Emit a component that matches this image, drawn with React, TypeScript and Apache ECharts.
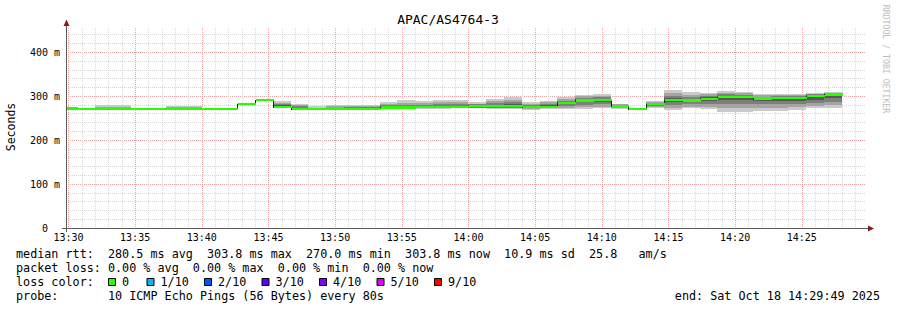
import React, { useEffect, useRef } from 'react';
import * as echarts from 'echarts';

const chartTitle = 'APAC/AS4764-3';
const axisStart = 48589; // 13:29:49 (seconds of day)
const axisEnd = 52189; // 14:29:49
const firstStepEnd = 48640; // 13:30:40
const stepSeconds = 80;
const yMax = 455;

const xTickLabels = ['13:30', '13:35', '13:40', '13:45', '13:50', '13:55', '14:00', '14:05', '14:10', '14:15', '14:20', '14:25'];

// median rtt per 80 s step (ms)
const median = [272, 270, 270, 270, 270, 270, 270.5, 271, 271, 270, 282.5, 291, 275, 270.5, 270, 271, 271, 271, 274, 274, 275, 275, 276, 277, 277, 277, 275, 276, 285, 290, 291, 278, 270, 281.5, 291, 290, 294, 298, 298, 294.5, 296, 296, 300, 303.8];

// sorted ping values (rank 1 = fastest ... rank 10 = slowest), ms
const ping1 = [271, 269, 269, 269, 269, 269, 270, 270, 270, 270, 281, 290, 272, 269, 269, 269, 269, 270, 270, 270, 271, 271, 272, 272, 271, 270, 268, 270, 270, 271, 272, 271, 269, 274, 268, 272, 271, 265, 264, 267, 267, 268, 272, 273];
const ping2 = [271, 270, 270, 270, 270, 270, 270, 270, 270, 270, 282, 290, 273, 270, 270, 270, 270, 270, 271, 271, 272, 272, 273, 273, 273, 272, 270, 272, 273, 275, 276, 273, 270, 276, 273, 276, 276, 272, 272, 274, 274, 275, 278, 279];
const ping3 = [271, 270, 270, 270, 270, 270, 270, 270, 270, 270, 282, 291, 274, 270, 270, 270, 270, 271, 272, 272, 273, 273, 274, 274, 274, 274, 272, 273, 277, 280, 281, 275, 270, 278, 280, 281, 282, 281, 281, 281, 282, 282, 285, 286];
const ping4 = [272, 270, 270, 270, 270, 270, 270, 271, 270, 270, 282, 291, 275, 270, 270, 271, 271, 271, 273, 273, 274, 274, 275, 276, 276, 276, 274, 275, 281, 286, 287, 277, 270, 280, 287, 287, 289, 291, 291, 288, 289, 289, 292, 295];
const ping5 = [272, 270, 270, 270, 270, 270, 270, 271, 270, 270, 282, 291, 275, 270, 270, 271, 271, 271, 274, 274, 275, 275, 276, 277, 277, 277, 275, 276, 284, 289, 290, 278, 270, 281, 290, 289, 293, 297, 297, 293, 295, 295, 299, 303];
const ping6 = [272, 270, 270, 270, 270, 270, 271, 271, 271, 271, 283, 291, 276, 271, 270, 271, 271, 272, 275, 275, 275, 276, 276, 277, 278, 278, 275, 277, 286, 291, 292, 278, 270, 282, 292, 291, 295, 299, 299, 296, 297, 297, 301, 304];
const ping7 = [272, 270, 270, 270, 270, 270, 271, 271, 271, 271, 283, 291, 279, 274, 271, 272, 273, 273, 277, 277, 277, 278, 278, 279, 280, 281, 277, 279, 287, 293, 294, 279, 270, 283, 295, 293, 297, 301, 301, 297, 298, 298, 302, 305];
const ping8 = [272, 270, 271, 271, 270, 270, 272, 272, 271, 271, 283, 292, 281, 277, 272, 274, 275, 276, 280, 280, 280, 282, 282, 281, 284, 286, 280, 282, 290, 296, 297, 280, 271, 285, 300, 297, 300, 304, 303, 299, 300, 300, 304, 306];
const ping9 = [273, 271, 276, 276, 271, 271, 275, 275, 271, 271, 283, 292, 284, 279, 274, 277, 278, 278, 283, 285, 284, 287, 287, 283, 289, 292, 283, 286, 294, 300, 301, 281, 271, 287, 306, 303, 304, 308, 306, 302, 303, 303, 305, 307];
const ping10 = [273, 271, 279, 279, 271, 274, 277, 277, 272, 272, 284, 292, 288, 282, 277, 279, 280, 280, 286, 292, 289, 292, 292, 286, 294, 299, 286, 290, 298, 303, 305, 283, 271, 289, 313, 309, 307, 311, 309, 305, 305, 305, 307, 309];

const rttStats = ['280.5', '303.8', '270.0', '303.8', '10.9', '25.8'];
const lossStats = ['0.00', '0.00', '0.00', '0.00'];
const lossLabels = ['0', '1/10', '2/10', '3/10', '4/10', '5/10', '9/10'];
const lossColors = ['#26ff00', '#00b8ff', '#0059ff', '#5e00ff', '#7e00ff', '#dd00ff', '#ff0000'];
const probeText = '10 ICMP Echo Pings (56 Bytes) every 80s';
const endText = 'end: Sat Oct 18 14:29:49 2025';
const watermark = 'RRDTOOL / TOBI OETIKER';

const smokeShades = ['#cacaca', '#a4a4a4', '#7e7e7e', '#585858', '#323232'];
const FONT = "'DejaVu Sans Mono', monospace";
const MAJOR = '#eba3a3';
const MINOR = '#d6d6d6';
const AXIS = '#5a5a5a';
const ARROW = '#8b1a1a';

const nb = (s: string) => s.replace(/ /g, '\u00A0');
const toSec = (hm: string) => {
  const [h, m] = hm.split(':').map(Number);
  return h * 3600 + m * 60;
};
const fmtTime = (v: number) => {
  const h = Math.floor(v / 3600);
  const m = Math.round((v % 3600) / 60);
  return `${h}:${String(m).padStart(2, '0')}`;
};

export default function App() {
  const ref = useRef<HTMLDivElement>(null);

  useEffect(() => {
    if (!ref.current) return;
    const chart = echarts.init(ref.current, null, { renderer: 'svg' });

    const pingRanks = [ping1, ping2, ping3, ping4, ping5, ping6, ping7, ping8, ping9, ping10];
    const segments = median.map((m, i) => [
      i === 0 ? axisStart : firstStepEnd + (i - 1) * stepSeconds,
      firstStepEnd + i * stepSeconds,
      m,
      i === 0 ? m : median[i - 1],
      ...pingRanks.map((r) => r[i]),
    ]);

    const minuteLines: number[][] = [];
    const firstMinute = Math.ceil(axisStart / 60) * 60;
    for (let t = firstMinute; t < axisEnd; t += 60) minuteLines.push([t, 0]);

    const xLabelValues = xTickLabels.map(toSec);

    const line1 = nb(
      `median rtt:  ${rttStats[0]} ms avg  ${rttStats[1]} ms max  ${rttStats[2]} ms min  ${rttStats[3]} ms now  ${rttStats[4]} ms sd  ${rttStats[5]}   am/s`
    );
    const line2 = nb(
      `packet loss: ${lossStats[0]} % avg  ${lossStats[1]} % max  ${lossStats[2]} % min  ${lossStats[3]} % now`
    );

    const lossBoxX = [108.5, 147, 204.5, 262, 319.5, 377, 434.5];
    const legendGraphics: any[] = [];
    lossLabels.forEach((lab, i) => {
      legendGraphics.push({
        type: 'rect',
        shape: { x: lossBoxX[i], y: 278.5, width: 7, height: 7 },
        style: { fill: lossColors[i], stroke: '#000', lineWidth: 1 },
      });
      legendGraphics.push({
        type: 'text',
        x: lossBoxX[i] + 13.5,
        y: 282.1,
        style: { text: lab, font: `11.75px ${FONT}`, fill: '#000', verticalAlign: 'middle', align: 'left' },
      });
    });

    const textStyle = (text: string, x: number, y: number, extra: any = {}) => ({
      type: 'text',
      x,
      y,
      style: { text, font: `11.75px ${FONT}`, fill: '#000', verticalAlign: 'middle', align: 'left', ...extra },
    });

    const option: any = {
      animation: false,
      backgroundColor: '#ffffff',
      grid: { left: 66, top: 28, width: 800, height: 200, containLabel: false },
      xAxis: {
        type: 'value',
        min: axisStart,
        max: axisEnd,
        axisLine: { show: true, lineStyle: { color: AXIS, width: 1 } },
        axisTick: { show: false },
        splitLine: { show: false },
        axisLabel: {
          customValues: xLabelValues,
          formatter: (v: number) => fmtTime(v),
          fontFamily: FONT,
          fontSize: 10,
          color: '#000',
          margin: 4,
        },
      },
      yAxis: {
        type: 'value',
        min: 0,
        max: yMax,
        interval: 20,
        axisLine: { show: true, lineStyle: { color: AXIS, width: 1 } },
        axisTick: { show: false },
        axisLabel: {
          interval: 0,
          fontFamily: FONT,
          fontSize: 10,
          color: '#000',
          margin: 6,
          formatter: (v: number) => (v === 0 ? '0\u00A0\u00A0' : v % 100 === 0 ? `${v}\u00A0m` : ''),
        },
        splitLine: {
          show: true,
          showMaxLine: false,
          lineStyle: { color: [MAJOR, MINOR, MINOR, MINOR, MINOR], type: [1, 1], width: 1 },
        },
      },
      series: [
        {
          type: 'custom',
          z: 1,
          silent: true,
          clip: false,
          data: minuteLines,
          encode: { x: 0, y: 1 },
          renderItem: (params: any, api: any) => {
            const v = api.value(0) as number;
            const top = api.coord([v, yMax]);
            const bot = api.coord([v, 0]);
            const x = Math.round(top[0]) + 0.5;
            return {
              type: 'line',
              shape: { x1: x, y1: top[1], x2: x, y2: bot[1] },
              style: { stroke: v % 300 === 0 ? MAJOR : MINOR, lineWidth: 1, lineDash: [1, 1] },
            };
          },
        },
        {
          type: 'custom',
          z: 2,
          silent: true,
          clip: false,
          data: segments,
          encode: { x: [0, 1], y: [2] },
          renderItem: (params: any, api: any) => {
            const x0 = api.value(0) as number;
            const x1 = api.value(1) as number;
            const children: any[] = [];
            for (let b = 0; b < 5; b++) {
              const lo = api.value(4 + b) as number;
              const hi = api.value(13 - b) as number;
              if (hi <= lo) continue;
              const a = api.coord([x0, hi]);
              const c = api.coord([x1, lo]);
              const left = Math.round(a[0]);
              const right = Math.round(c[0]);
              const top = Math.round(a[1]);
              const bottom = Math.round(c[1]);
              children.push({
                type: 'rect',
                shape: { x: left, y: top, width: right - left, height: Math.max(1, bottom - top) },
                style: { fill: smokeShades[b] },
              });
            }
            return { type: 'group', children };
          },
        },
        {
          type: 'custom',
          z: 3,
          silent: true,
          clip: false,
          data: segments,
          encode: { x: [0, 1], y: [2] },
          renderItem: (params: any, api: any) => {
            const x0 = api.value(0) as number;
            const x1 = api.value(1) as number;
            const m = api.value(2) as number;
            const p = api.value(3) as number;
            const a = api.coord([x0, p]);
            const b = api.coord([x1, m]);
            const xl = Math.round(a[0]) + 0.5;
            const xr = Math.round(b[0]);
            const ya = Math.round(a[1]) + 0.5;
            const yb = Math.round(b[1]) + 0.5;
            return {
              type: 'polyline',
              shape: { points: [[xl, ya], [xl, yb], [xr, yb]] },
              style: { stroke: '#202020', lineWidth: 1, fill: 'none' },
            };
          },
        },
        {
          type: 'custom',
          z: 4,
          silent: true,
          clip: false,
          data: segments,
          encode: { x: [0, 1], y: [2] },
          renderItem: (params: any, api: any) => {
            const x0 = api.value(0) as number;
            const x1 = api.value(1) as number;
            const m = api.value(2) as number;
            const a = api.coord([x0, m + 2.6]);
            const c = api.coord([x1, m - 2.6]);
            const left = Math.round(a[0]) + 1;
            const right = Math.round(c[0]) + 1;
            const top = Math.round(a[1]);
            const bottom = Math.round(c[1]);
            return {
              type: 'rect',
              shape: { x: left, y: top, width: right - left, height: Math.max(2, bottom - top) },
              style: { fill: lossColors[0] },
            };
          },
        },
      ],
      graphic: [
        {
          type: 'text',
          x: 448,
          y: 19,
          style: { text: chartTitle, font: `13px ${FONT}`, fill: '#000', align: 'center', verticalAlign: 'middle' },
        },
        {
          type: 'text',
          x: 11,
          y: 127,
          rotation: Math.PI / 2,
          style: { text: 'Seconds', font: `11.5px ${FONT}`, fill: '#000', align: 'center', verticalAlign: 'middle' },
        },
        {
          type: 'text',
          x: 886,
          y: 59,
          rotation: -Math.PI / 2,
          style: { text: watermark, font: `8.2px ${FONT}`, fill: '#bdbdbd', align: 'center', verticalAlign: 'middle' },
        },
        { type: 'line', shape: { x1: 66.5, y1: 22, x2: 66.5, y2: 28 }, style: { stroke: AXIS, lineWidth: 1 } },
        { type: 'line', shape: { x1: 62, y1: 228.5, x2: 66, y2: 228.5 }, style: { stroke: AXIS, lineWidth: 1 } },
        { type: 'line', shape: { x1: 866, y1: 228.5, x2: 870, y2: 228.5 }, style: { stroke: AXIS, lineWidth: 1 } },
        { type: 'line', shape: { x1: 66.5, y1: 228, x2: 66.5, y2: 232 }, style: { stroke: AXIS, lineWidth: 1 } },
        { type: 'polygon', shape: { points: [[63.5, 26], [66.5, 19.5], [69.5, 26]] }, style: { fill: ARROW } },
        { type: 'polygon', shape: { points: [[868, 225.5], [874, 228.5], [868, 231.5]] }, style: { fill: ARROW } },
        textStyle(line1, 16, 253.6),
        textStyle(line2, 16, 267.9),
        textStyle(nb('loss color:'), 16, 282.1),
        ...legendGraphics,
        textStyle(nb(`probe:       ${probeText}`), 16, 296.4),
        textStyle(nb(endText), 880, 296.4, { align: 'right' }),
      ],
    };

    chart.setOption(option);
    return () => chart.dispose();
  }, []);

  return (
    <div
      ref={ref}
      style={{ position: 'absolute', left: 0, top: 0, width: 897, height: 310, background: '#fff' }}
    />
  );
}
